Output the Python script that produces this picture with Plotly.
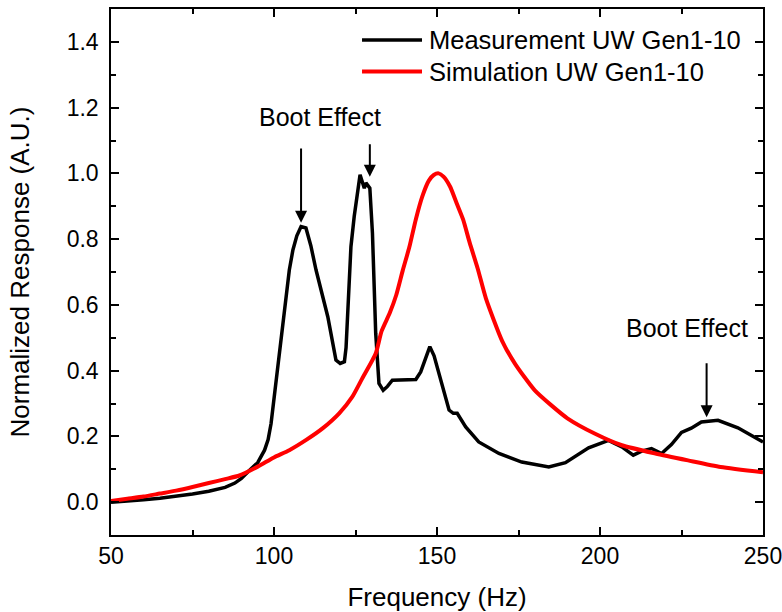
import plotly.graph_objects as go

# Measurement UW Gen1-10 (black)
meas_f = [50, 55, 60, 65, 70, 75, 80, 85, 88, 90, 92.5, 95, 97.1, 98.2, 99.1, 100.2,
          102.2, 104.7, 105.8, 107, 108.3, 109.8, 111.3, 112.9, 116.5, 119.0, 120.3,
          121.6, 122.1, 122.6, 123.6, 124.6, 125.5, 126.4, 127.7, 128.2, 129.4, 130.2,
          131.2, 132.2, 133.5, 134.8, 136.3, 141.4, 143.5, 145, 146.5, 147.8, 149.1,
          150.3, 151.6, 153.7, 155, 156.2, 158.8, 162.8, 169, 176, 184.3, 189.4, 196.5,
          202.6, 206.7, 210.2, 212.8, 215.8, 218.9, 221.9, 225, 228, 231.1, 236.2, 242.3,
          247.4, 250]
meas_v = [0.0, 0.003, 0.007, 0.012, 0.018, 0.025, 0.033, 0.045, 0.058, 0.072, 0.097,
          0.12, 0.158, 0.19, 0.239, 0.33, 0.503, 0.706, 0.767, 0.81, 0.838, 0.834,
          0.78, 0.706, 0.564, 0.432, 0.422, 0.427, 0.47, 0.564, 0.777, 0.869, 0.93,
          0.996, 0.955, 0.971, 0.955, 0.818, 0.513, 0.361, 0.34, 0.352, 0.371, 0.371,
          0.373, 0.396, 0.44, 0.473, 0.445, 0.40, 0.35, 0.28, 0.27, 0.27, 0.229, 0.183,
          0.148, 0.122, 0.107, 0.12, 0.165, 0.188, 0.168, 0.143, 0.155, 0.163, 0.148,
          0.175, 0.212, 0.225, 0.244, 0.249, 0.226, 0.198, 0.183]

# Simulation UW Gen1-10 (red)
sim_f = [50, 55, 60, 65, 70, 75, 80, 85, 89.4, 95, 100, 104.7, 110, 115, 120, 124, 127,
         131.2, 133, 135.5, 137.5, 139.5, 141.5, 143.5, 145.5, 147.5, 149, 150.5, 152,
         154, 156, 158, 160, 162.5, 165, 170, 174, 180, 185, 190, 198.5, 206.7, 217,
         227, 237, 250]
sim_v = [0.003, 0.01, 0.017, 0.026, 0.035, 0.046, 0.058, 0.07, 0.081, 0.108, 0.136,
         0.158, 0.19, 0.225, 0.27, 0.32, 0.375, 0.452, 0.52, 0.575, 0.63, 0.705, 0.775,
         0.86, 0.93, 0.978, 0.995, 1.0, 0.99, 0.96, 0.91, 0.86, 0.79, 0.71, 0.62, 0.49,
         0.42, 0.34, 0.295, 0.255, 0.208, 0.173, 0.148, 0.127, 0.107, 0.091]

series_names = ["Measurement UW Gen1-10", "Simulation UW Gen1-10"]
series_colors = ["black", "#ff0000"]

# Annotations: (text x, text y) and arrows (x, tail y, tip y)
label_text = "Boot Effect"
labels = [(114.2, 1.173), (226.8, 0.529)]
arrows = [(108.3, 1.08, 0.85), (129.4, 1.093, 0.99), (232.7, 0.427, 0.258)]

FONT = "Arial, Liberation Sans, sans-serif"

fig = go.Figure()
fig.add_trace(go.Scatter(x=meas_f, y=meas_v, mode="lines",
                         name=series_names[0], showlegend=False,
                         line=dict(color=series_colors[0], width=3.5)))
fig.add_trace(go.Scatter(x=sim_f, y=sim_v, mode="lines",
                         name=series_names[1], showlegend=False,
                         line=dict(color=series_colors[1], width=4, shape="spline", smoothing=0.6)))

for (tx, ty) in labels:
    fig.add_annotation(x=tx, y=ty, text=label_text, showarrow=False,
                       font=dict(family=FONT, size=25, color="black"))
for (ax_, ytail, ytip) in arrows:
    fig.add_annotation(x=ax_, y=ytip, ax=ax_, ay=ytail, axref="x", ayref="y",
                       xref="x", yref="y", text="", showarrow=True,
                       arrowhead=2, arrowsize=1.2, arrowwidth=2, arrowcolor="black")

# legend (swatch lines + labels) in the top right corner of the plot area
leg_y = [0.941, 0.881]
for name, col, w, yy in zip(series_names, series_colors, [3.5, 4], leg_y):
    fig.add_shape(type="line", xref="paper", yref="paper", x0=0.385, x1=0.477,
                  y0=yy, y1=yy, line=dict(color=col, width=w))
    fig.add_annotation(xref="paper", yref="paper", x=0.484, y=yy, text=name,
                       showarrow=False, xanchor="left", yanchor="middle",
                       font=dict(family=FONT, size=25.5, color="black"))

axis_common = dict(showgrid=False, zeroline=False, showline=True, linecolor="black",
                   linewidth=1.5, mirror="ticks", ticks="inside", ticklen=8,
                   tickwidth=1.5, tickcolor="black", automargin=False,
                   tickfont=dict(family=FONT, size=23, color="black"))

fig.update_xaxes(range=[50, 250], tickvals=[50, 100, 150, 200, 250],
                 ticklabelstandoff=0, ticklabeloverflow="allow",
                 minor=dict(dtick=25, ticks="inside", ticklen=5, tickwidth=1.5,
                            tickcolor="black"),
                 title=dict(text="Frequency (Hz)", font=dict(family=FONT, size=26, color="black"),
                            standoff=25),
                 **axis_common)
fig.update_yaxes(range=[-0.1, 1.5], tickvals=[0, 0.2, 0.4, 0.6, 0.8, 1.0, 1.2, 1.4],
                 tickformat=".1f", ticklabelstandoff=6,
                 minor=dict(dtick=0.1, tick0=0, ticks="inside", ticklen=5, tickwidth=1.5,
                            tickcolor="black"),
                 title=dict(text="Normalized Response (A.U.)",
                            font=dict(family=FONT, size=26, color="black"), standoff=30),
                 **axis_common)

fig.update_layout(
    width=782, height=612,
    margin=dict(l=111, r=19, t=9, b=77),
    paper_bgcolor="white", plot_bgcolor="white",
    font=dict(family=FONT, color="black"),
    showlegend=False,
)

fig.write_html("out.html")
